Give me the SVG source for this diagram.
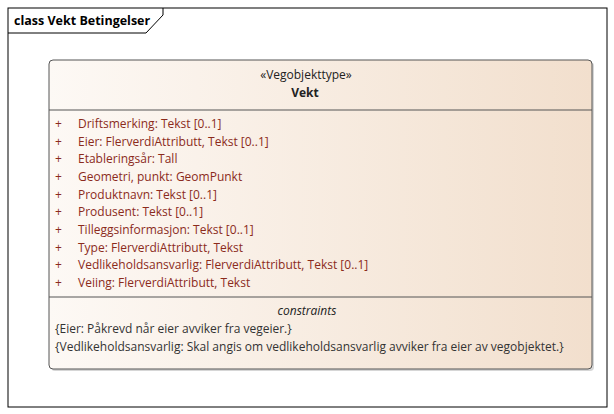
<svg xmlns="http://www.w3.org/2000/svg" width="614" height="414" viewBox="0 0 614 414">
<defs>
<linearGradient id="g" x1="0" y1="0" x2="1" y2="0">
<stop offset="0" stop-color="#FDF9F5"/>
<stop offset="1" stop-color="#F2DFCD"/>
</linearGradient>
<style>
.t{font-family:"Open Sans","Noto Sans",sans-serif;font-size:12px}
.a{fill:#8B2B1C}
.c{fill:#333333}
</style>
</defs>
<rect x="0" y="0" width="614" height="414" fill="#ffffff"/>
<g id="frame">
<rect x="8" y="8" width="599" height="399" fill="none" stroke="#000" stroke-width="1"/>
<path d="M8 33 H146 L163 15 V8" fill="none" stroke="#000" stroke-width="1"/>
<text x="14" y="25" font-family="'Open Sans','Noto Sans',sans-serif" font-size="12.5" font-weight="bold" fill="#000">class Vekt Betingelser</text>
</g>
<g id="Vekt">
<rect x="51" y="62" width="543" height="309" rx="4" fill="#BBBBBB" opacity="0.6"/>
<rect x="49" y="60" width="543" height="309" rx="4" fill="url(#g)" stroke="#555" stroke-width="1"/>
<line x1="49" y1="110" x2="592" y2="110" stroke="#555"/>
<line x1="49" y1="297" x2="592" y2="297" stroke="#555"/>
<text class="t" x="306" y="79" text-anchor="middle" fill="#222">«Vegobjekttype»</text>
<text class="t" x="305" y="97" text-anchor="middle" font-weight="bold" fill="#222">Vekt</text>
<g class="t a">
<text x="55" y="128">+</text><text x="78" y="128">Driftsmerking: Tekst [0..1]</text>
<text x="55" y="146">+</text><text x="78" y="146">Eier: FlerverdiAttributt, Tekst [0..1]</text>
<text x="55" y="163">+</text><text x="78" y="163">Etableringsår: Tall</text>
<text x="55" y="181">+</text><text x="78" y="181">Geometri, punkt: GeomPunkt</text>
<text x="55" y="199">+</text><text x="78" y="199">Produktnavn: Tekst [0..1]</text>
<text x="55" y="216">+</text><text x="78" y="216">Produsent: Tekst [0..1]</text>
<text x="55" y="234">+</text><text x="78" y="234">Tilleggsinformasjon: Tekst [0..1]</text>
<text x="55" y="252">+</text><text x="78" y="252">Type: FlerverdiAttributt, Tekst</text>
<text x="55" y="269">+</text><text x="78" y="269">Vedlikeholdsansvarlig: FlerverdiAttributt, Tekst [0..1]</text>
<text x="55" y="287">+</text><text x="78" y="287">Veiing: FlerverdiAttributt, Tekst</text>
</g>
<text class="t" x="307" y="315" text-anchor="middle" font-style="italic" fill="#222">constraints</text>
<g class="t c">
<text x="55" y="333">{Eier: Påkrevd når eier avviker fra vegeier.}</text>
<text x="55" y="351">{Vedlikeholdsansvarlig: Skal angis om vedlikeholdsansvarlig avviker fra eier av vegobjektet.}</text>
</g>
</g>
</svg>
